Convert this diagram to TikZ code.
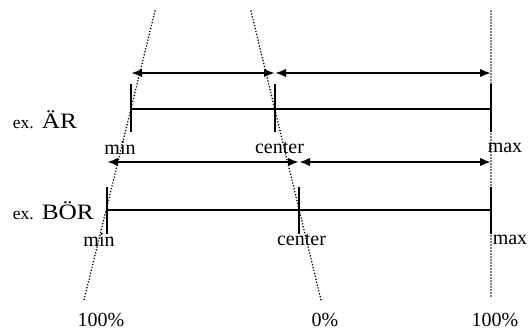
\documentclass[tikz,border=0pt]{standalone}
\usepackage{fontspec}
\setmainfont{Liberation Serif}
\usetikzlibrary{arrows.meta}
\newcommand{\bigword}[1]{\scalebox{1.15}[1]{\fontsize{22}{26}\selectfont #1}}
\begin{document}
\begin{tikzpicture}[x=1pt,y=-1pt,
  hline/.style={line width=2pt},
  tick/.style={line width=1.7pt},
  dimarrow/.style={line width=2pt,{Latex[length=11pt,width=8.5pt]}-{Latex[length=11pt,width=8.5pt]}},
  guide/.style={line width=1.7pt,line cap=round,dash pattern=on 0pt off 3pt},
  lab/.style={font=\fontsize{20}{22}\selectfont,inner sep=0pt},
  exlab/.style={font=\fontsize{17.5}{20}\selectfont,inner sep=0pt,anchor=base west}]
\useasboundingbox (0,0) rectangle (531,331);
% guide lines
\coordinate (g1t) at (155,11); \coordinate (g1b) at (84,300);
\coordinate (g2t) at (251,11); \coordinate (g2b) at (321,300);
\coordinate (g3t) at (491,11); \coordinate (g3b) at (491,297);
\draw[guide] (g1t) -- (g1b);
\draw[guide] (g2t) -- (g2b);
\draw[guide] (g3t) -- (g3b);
% row AR
\coordinate (a1) at (131,109); \coordinate (a2) at (275,109); \coordinate (a3) at (491,109);
\coordinate (a1t) at (131,84); \coordinate (a1b) at (131,132);
\coordinate (a2t) at (275,84); \coordinate (a2b) at (275,132);
\coordinate (a3t) at (491,84); \coordinate (a3b) at (491,132);
\draw[hline] (a1) -- (a3);
\draw[tick] (a1t) -- (a1b);
\draw[tick] (a2t) -- (a2b);
\draw[tick] (a3t) -- (a3b);
\coordinate (ua1) at (131,73); \coordinate (ua2) at (275,73); \coordinate (ua3) at (491,73);
\draw[dimarrow] (ua1) -- (ua2);
\draw[dimarrow] (ua2) -- (ua3);
% row BOR
\coordinate (b1) at (107,210); \coordinate (b2) at (299,210); \coordinate (b3) at (491,210);
\coordinate (b1t) at (107,187); \coordinate (b1b) at (107,234);
\coordinate (b2t) at (299,187); \coordinate (b2b) at (299,234);
\coordinate (b3t) at (491,187); \coordinate (b3b) at (491,234);
\draw[hline] (b1) -- (b3);
\draw[tick] (b1t) -- (b1b);
\draw[tick] (b2t) -- (b2b);
\draw[tick] (b3t) -- (b3b);
\coordinate (ub1) at (107,162); \coordinate (ub2) at (299,162); \coordinate (ub3) at (491,162);
\draw[dimarrow] (ub1) -- (ub2);
\draw[dimarrow] (ub2) -- (ub3);
% labels
\node[lab] (amin) at (120,148) {min};
\node[lab] (acen) at (279.5,148) {center};
\node[lab] (amax) at (505,148) {max};
\node[lab] (bmin) at (99,240) {min};
\node[lab] (bcen) at (301.5,240) {center};
\node[lab] (bmax) at (510,240) {max};
\node[lab,anchor=base] (p1) at (101,326.5) {100\%};
\node[lab,anchor=base] (p2) at (325,326.5) {0\%};
\node[lab,anchor=base] (p3) at (495,326.5) {100\%};
\node[exlab] (exa) at (12.7,128.5) {ex.\hspace{8pt}\bigword{ÄR}};
\node[exlab] (exb) at (12.7,220) {ex.\hspace{8pt}\bigword{BÖR}};
\end{tikzpicture}
\end{document}
